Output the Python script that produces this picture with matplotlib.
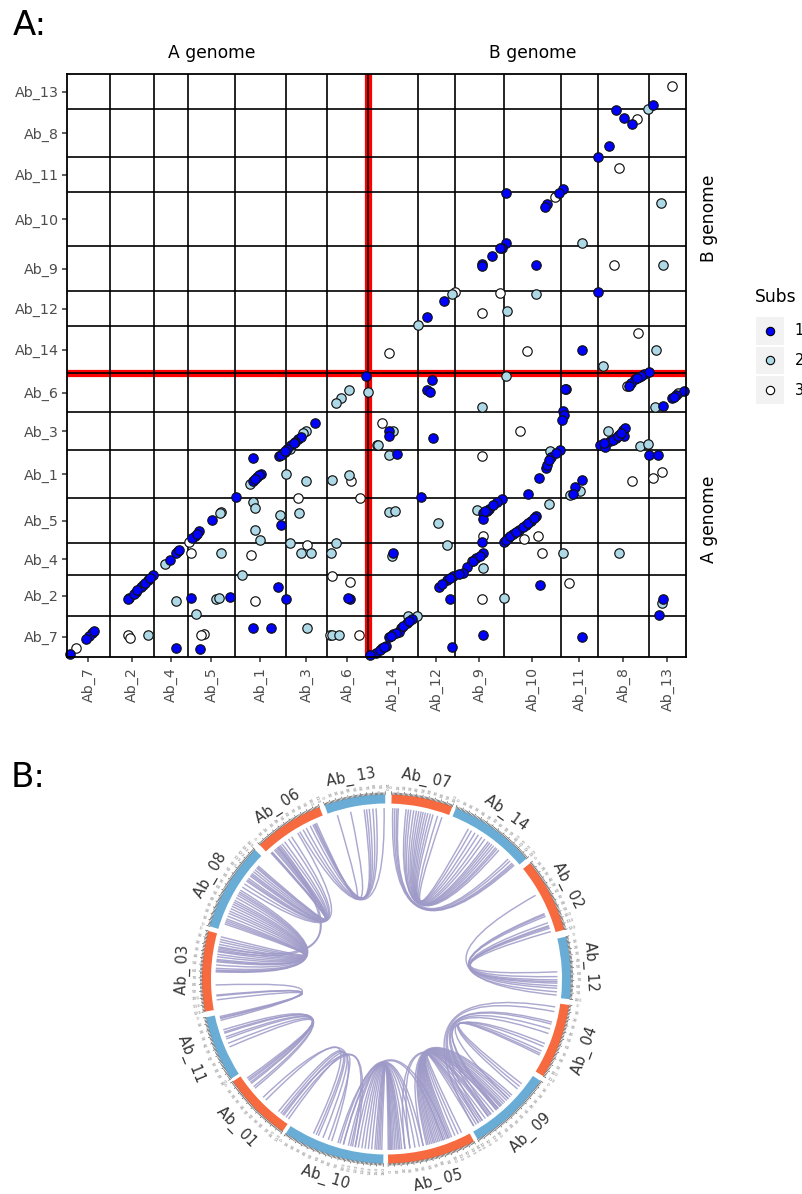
import numpy as np
import matplotlib
matplotlib.use("Agg")
import matplotlib.pyplot as plt
from matplotlib.patches import Wedge, PathPatch, Rectangle
from matplotlib.path import Path

# Panel A: chromosome boundaries on the dotplot axes
x_names = ["Ab_7", "Ab_2", "Ab_4", "Ab_5", "Ab_1", "Ab_3", "Ab_6",
           "Ab_14", "Ab_12", "Ab_9", "Ab_10", "Ab_11", "Ab_8", "Ab_13"]
x_breaks = [67, 110, 154, 188, 235, 286, 327, 368, 418, 455, 504, 561, 598, 649, 686]
y_names = ["Ab_7", "Ab_2", "Ab_4", "Ab_5", "Ab_1", "Ab_3", "Ab_6",
           "Ab_14", "Ab_12", "Ab_9", "Ab_10", "Ab_11", "Ab_8", "Ab_13"]
y_breaks = [657, 616, 575, 543, 498, 450, 412, 373, 326, 291, 246, 192, 157, 109, 74]
genome_split_x = 368
genome_split_y = 373

subs1 = [(616,110),(624,118),(632,124),(653,105),(609,146),(598,157),(506,193),(563,189),(559,193),
         (547,204),(545,207),(506,243),(502,248),(500,248),(492,256),(482,264),(482,266),(536,265),
         (598,292),(444,301),(427,317),(582,350),(366,376),(644,374),(649,372),(639,377),(635,379),
         (631,383),(629,386),(315,423),(298,439),(301,437),(291,445),(283,453),(279,456),(281,455),
         (253,458),(261,474),(257,477),(253,481),(236,497),(212,520),(199,531),(195,536),(192,538),
         (178,551),(176,553),(170,560),(153,575),(148,580),(141,587),(136,592),(129,598),(128,599),
         (191,598),(230,597),(278,587),(286,599),(281,525),(350,599),(348,598),(253,628),(271,628),
         (176,648),(200,649),(92,633),(89,636),(86,639),(94,631),(70,654),(432,380),(427,390),(430,392),
         (566,389),(565,389),(563,411),(564,415),(562,420),(389,431),(389,436),(433,438),(397,454),
         (560,450),(551,457),(546,468),(547,465),(539,478),(528,494),(582,480),(575,487),(573,494),
         (421,497),(502,499),(497,502),(489,509),(483,513),(483,519),(482,542),(483,553),(476,558),
         (467,567),(463,573),(453,576),(447,580),(439,587),(450,599),(504,542),(513,534),(519,530),
         (526,525),(531,521),(536,516),(508,538),(393,553),(540,585),(663,599),(659,615),(483,635),
         (582,637),(452,647),(412,619),(407,623),(401,628),(399,632),(393,634),(389,637),(386,646),
         (382,648),(376,653),(370,655),(600,445),(605,447),(610,441),(616,438),(623,430),(625,428),
         (624,436),(649,455),(658,455),(684,391),(676,395),(672,398),(663,406),
         (134,594),(145,583),(150,578),(295,442),(287,449),(294,443),(259,475),(255,479),(197,534),
         (442,584),(450,578),(459,574),(473,561),(480,556),(487,511),(493,505),(485,511),(506,540),
         (510,536),(516,532),(523,527),(528,523),(534,518),(403,626),(396,633),(391,636),(409,621),
         (380,650),(384,647),(604,443),(613,440),(619,435),(549,460),(556,453),(618,436),(621,433),
         (137,590),(179,550),(285,451),(674,397),(641,376),(637,378)]
subs2 = [(648,109),(661,203),(582,243),(663,265),(452,294),(536,294),(507,311),(418,325),(656,350),
         (603,366),(506,376),(368,392),(349,390),(341,398),(336,403),(377,445),(306,431),(303,433),
         (290,449),(285,452),(286,474),(306,481),(332,480),(349,475),(250,484),(253,502),(255,508),
         (280,515),(299,513),(255,530),(260,540),(290,543),(336,543),(301,553),(311,553),(331,553),
         (221,512),(220,513),(221,553),(165,564),(242,575),(176,601),(216,599),(219,598),(196,614),
         (307,628),(148,635),(332,635),(339,635),(143,585),(482,407),(393,431),(378,445),(389,455),
         (389,512),(395,511),(438,523),(447,545),(392,556),(472,561),(483,568),(504,598),(408,616),
         (417,616),(477,510),(549,504),(563,553),(619,553),(608,431),(640,446),(648,444),(655,407),
         (662,603),(570,495),(580,491),(550,451),(678,393)]
subs3 = [(672,86),(637,119),(619,168),(555,197),(614,265),(455,292),(500,293),(482,313),(638,333),
         (527,351),(389,353),(351,481),(298,498),(360,498),(189,542),(191,553),(251,555),(307,545),
         (332,576),(350,582),(255,601),(359,635),(204,634),(201,635),(128,635),(130,638),(76,648),
         (330,635),(382,423),(520,431),(482,456),(632,481),(653,478),(662,472),(483,536),(524,539),
         (538,536),(542,553),(569,583),(482,599),(627,386)]
sub_labels = ["1", "2", "3"]
sub_colors = ["#0000FF", "#ADD8E6", "#FFFFFF"]

# Panel B: sectors, angles in degrees clockwise from the top
sector_names = ["Ab_ 07", "Ab_ 14", "Ab_ 02", "Ab_ 12", "Ab_ 04", "Ab_ 09", "Ab_ 05",
                "Ab_ 10", "Ab_ 01", "Ab_ 11", "Ab_ 03", "Ab_ 08", "Ab_ 06", "Ab_ 13"]
sector_start = [1.6, 22.1, 51.1, 76.7, 98.1, 123.5, 151.7, 181.0, 214.3, 237.3, 259.8, 286.6, 316.6, 340.4]
sector_end = [20.9, 49.3, 74.5, 96.3, 121.8, 150.4, 179.5, 213.1, 236.3, 258.0, 285.1, 314.5, 338.7, 359.6]
sector_len = [100, 130, 120, 100, 110, 130, 140, 160, 110, 100, 120, 140, 110, 100]
sector_dir = [1, 1, 1, 1, 1, 1, -1, -1, -1, -1, -1, 1, 1, 1]
sector_col = ["o", "b"] * 7
ring_colors = {"o": "#F7693F", "b": "#69ADD6"}

# link ends, paired by position in each list
l07 = [2.1, 2.8, 3.5, 4.0, 6.6, 7.4, 8.2, 9.2, 10.1, 10.9, 11.7, 12.4, 13.2, 14.0, 14.9, 15.8, 17.4, 18.9]
l14 = [48.3, 47.8, 47.3, 46.3, 45.4, 41.1, 40.3, 39.7, 38.8, 38.0, 37.2, 36.5, 35.1, 33.9, 32.5, 31.2, 29.8, 28.6]
l02 = [60.7, 67.5, 67.9, 68.5, 70.8, 71.8, 72.2, 72.7, 73.9]
l12 = [95.4, 94.3, 93.1, 92.3, 91.4, 90.9, 90.3, 89.2, 87.6]
l04 = [99.4, 101.0, 104.6, 105.3, 107.0, 108.6, 112.2, 113.3, 114.9, 115.8, 116.4]
l09a = [149.3, 147.4, 145.9, 143.5, 142.3, 140.0, 139.2, 134.5, 130.0, 128.9, 127.8]
l05 = [154.0, 155.2, 156.4, 157.6, 158.2, 158.8, 159.4, 160.0, 160.6, 161.2, 161.8, 162.4, 163.0, 163.6,
       164.1, 164.7, 165.3, 165.9, 166.4, 167.6]
l09b = [149.3, 148.3, 147.4, 146.6, 145.9, 144.7, 143.5, 142.9, 142.3, 141.2, 140.0, 139.2, 138.4, 137.6,
        136.9, 136.2, 135.3, 134.5, 133.6, 132.8]
l05c = [179.4, 179.0, 178.6, 178.3, 177.8, 177.2, 176.6, 176.0, 175.5, 174.9, 173.8, 172.1, 170.4, 168.9, 167.6]
l10c = [181.6, 182.2, 182.7, 183.3, 183.9, 185.0, 186.1, 187.2, 188.3, 189.5, 190.6, 192.1, 192.9, 194.6, 195.8]
l10x = [194.6, 196.5]
l05x = [160.6, 158.8]
l05y = [173.8, 172.1]
l09y = [138.0, 139.5]
l01y = [216.0, 217.5]
l10y = [191.5, 190.5]
l10a = [199.9, 201.8, 203.5, 204.3, 205.3, 198.7]
l01a = [215.0, 217.0, 218.2, 219.2, 224.9, 226.2]
l01b = [230.3, 231.0, 232.3, 232.8, 233.5, 234.0, 234.6]
l11b = [252.7, 251.9, 251.5, 250.2, 249.5, 247.9, 246.6]
l11d = [256.0, 256.6, 256.9, 257.3]
l03d = [268.0, 264.6, 264.3, 263.0]
l03e = [272.4, 272.7, 273.0, 273.6, 274.7, 275.8, 276.2, 276.6, 277.5, 278.3, 279.2, 280.0, 280.9, 281.7,
        282.6, 283.4, 284.3]
l08e = [301.3, 300.6, 300.0, 299.3, 298.4, 297.4, 296.7, 296.0, 295.2, 294.3, 293.4, 292.6, 291.6, 290.6,
        290.0, 289.4, 288.8]
l08f = [311.4, 310.9, 310.5, 309.7, 308.9, 308.1, 307.6, 307.1, 306.1, 305.5, 305.0, 303.8, 302.5]
l06f = [317.5, 317.8, 318.0, 319.0, 319.5, 320.0, 320.5, 321.0, 322.3, 323.4, 325.0, 326.3, 328.7]
l06g = [329.5, 330.8, 332.0, 333.5, 334.5, 335.0, 335.3, 335.8]
l13g = [359.2, 356.5, 355.4, 354.2, 353.3, 352.5, 347.9, 343.3]
l06h = [321.5, 320.5]
l03h = [279.5, 280.5]
link_pairs = [(l07, l14), (l02, l12), (l04, l09a), (l05, l09b), (l05c, l10c), (l10x, l05x), (l05y, l09y),
              (l01y, l10y), (l10a, l01a), (l01b, l11b), (l11d, l03d), (l03e, l08e), (l08f, l06f),
              (l06g, l13g), (l06h, l03h)]

W, H = 803, 1194
fig = plt.figure(figsize=(W / 100, H / 100), dpi=100)
plt.rcParams["font.family"] = "DejaVu Sans"

# ---- panel A
ax = fig.add_axes([67 / W, 1 - 657 / H, (686 - 67) / W, (657 - 74) / H])
ax.set_xlim(x_breaks[0], x_breaks[-1])
ax.set_ylim(y_breaks[0], y_breaks[-1])

# red line behind the black one between the genomes
ax.axvline(genome_split_x, color="#FF0000", lw=5.2, zorder=1)
ax.axhline(genome_split_y, color="#FF0000", lw=5.2, zorder=1)
for v in x_breaks[1:-1]:
    ax.axvline(v, color="black", lw=1.2, zorder=2)
for v in y_breaks[1:-1]:
    ax.axhline(v, color="black", lw=1.2, zorder=2)

for pts, col, z in zip([subs3, subs2, subs1], sub_colors[::-1], [3, 4, 5]):
    pts = np.array(pts)
    ax.scatter(pts[:, 0], pts[:, 1], s=46, c=col, edgecolors="#111111", linewidths=0.85,
               zorder=z, clip_on=False)

xb = np.array(x_breaks)
yb = np.array(y_breaks)
ax.set_xticks((xb[:-1] + xb[1:]) / 2)
ax.set_xticklabels(x_names, rotation=90)
ax.set_yticks((yb[:-1] + yb[1:]) / 2)
ax.set_yticklabels(y_names)
ax.tick_params(axis="both", colors="#333333", labelcolor="#4D4D4D", labelsize=10.3, length=3.5, width=1.1)
ax.tick_params(axis="x", pad=3.5)
ax.tick_params(axis="y", pad=2.2)
for s in ax.spines.values():
    s.set_linewidth(1.3)
    s.set_zorder(6)

fig.text(13 / W, 1 - 35 / H, "A:", fontsize=24.5, ha="left", va="baseline")
fig.text(11 / W, 1 - 787 / H, "B:", fontsize=24.5, ha="left", va="baseline")
fig.text(212 / W, 1 - 53 / H, "A genome", fontsize=12.3, ha="center", va="center")
fig.text(533 / W, 1 - 53 / H, "B genome", fontsize=12.3, ha="center", va="center")
fig.text(709 / W, 1 - 218 / H, "B genome", fontsize=12.3, rotation=90, ha="center", va="center")
fig.text(709 / W, 1 - 519 / H, "A genome", fontsize=12.3, rotation=90, ha="center", va="center")

# ---- legend
leg = fig.add_axes([756 / W, 1 - 404 / H, 28 / W, 87 / H])
leg.set_xlim(0, 28)
leg.set_ylim(87, 0)
leg.axis("off")
for i, (lab, col) in enumerate(zip(sub_labels, sub_colors)):
    leg.add_patch(Rectangle((0, i * 29.5), 28, 27.5, color="#F2F2F2", lw=0))
    leg.scatter([14], [13.5 + i * 29.8], s=36, c=col, edgecolors="black", linewidths=0.8, zorder=3)
    leg.text(38.5, 13.5 + i * 29.8, lab, fontsize=10.5, ha="left", va="center", clip_on=False)
fig.text(755 / W, 1 - 297 / H, "Subs", fontsize=12.3, ha="left", va="center")

# ---- panel B, one unit is one pixel, centre of the ring at 0,0
cx, cy = 386.5, 979
c = fig.add_axes([0, 0, 1, 1], facecolor="none")
c.set_xlim(-cx, W - cx)
c.set_ylim(cy - H, cy)
c.axis("off")
c.set_zorder(-1)

R_out, R_in, R_link = 184.5, 175.5, 171


def polar(theta, r):
    t = np.radians(theta)
    return r * np.sin(t), r * np.cos(t)


for a, b in link_pairs:
    for t0, t1 in zip(a, b):
        verts = [polar(t0, R_link), (0, 0), polar(t1, R_link)]
        c.add_patch(PathPatch(Path(verts, [Path.MOVETO, Path.CURVE3, Path.CURVE3]), fc="none",
                              ec="#9E9AC8", lw=1.05, alpha=0.85))

for name, t0, t1, n, d, col in zip(sector_names, sector_start, sector_end, sector_len, sector_dir, sector_col):
    c.add_patch(Wedge((0, 0), R_out, 90 - t1, 90 - t0, width=R_out - R_in, fc=ring_colors[col], ec="none"))
    first = t0 if d > 0 else t1
    per_unit = d * (t1 - t0) / n
    for m in range(0, n + 1, 2):
        t = first + m * per_unit
        p0, p1 = polar(t, R_out), polar(t, R_out + (3 if m % 10 == 0 else 1.8))
        c.plot([p0[0], p1[0]], [p0[1], p1[1]], color="#333333", lw=0.4)
    for m in range(0, n + 1, 10):
        t = first + m * per_unit
        rot = 90 - t if t % 360 < 180 else 270 - t
        px, py = polar(t, R_out + 8)
        c.text(px, py, str(m), fontsize=3.1, color="#808080", rotation=rot, rotation_mode="anchor",
               ha="center", va="center")
    mid = (t0 + t1) / 2
    top = mid < 95 or mid > 265
    # the two labels at the bottom sit a bit closer so they stay on the page
    lr = 204 if top else (208 if 150 < mid < 200 else 211)
    lx, ly = polar(mid, lr)
    rot = -mid if top else 180 - mid
    c.text(lx, ly, name, fontsize=10.5, color="#333333", rotation=rot, rotation_mode="anchor",
           ha="center", va="center")

fig.savefig("out.png", dpi=100)
